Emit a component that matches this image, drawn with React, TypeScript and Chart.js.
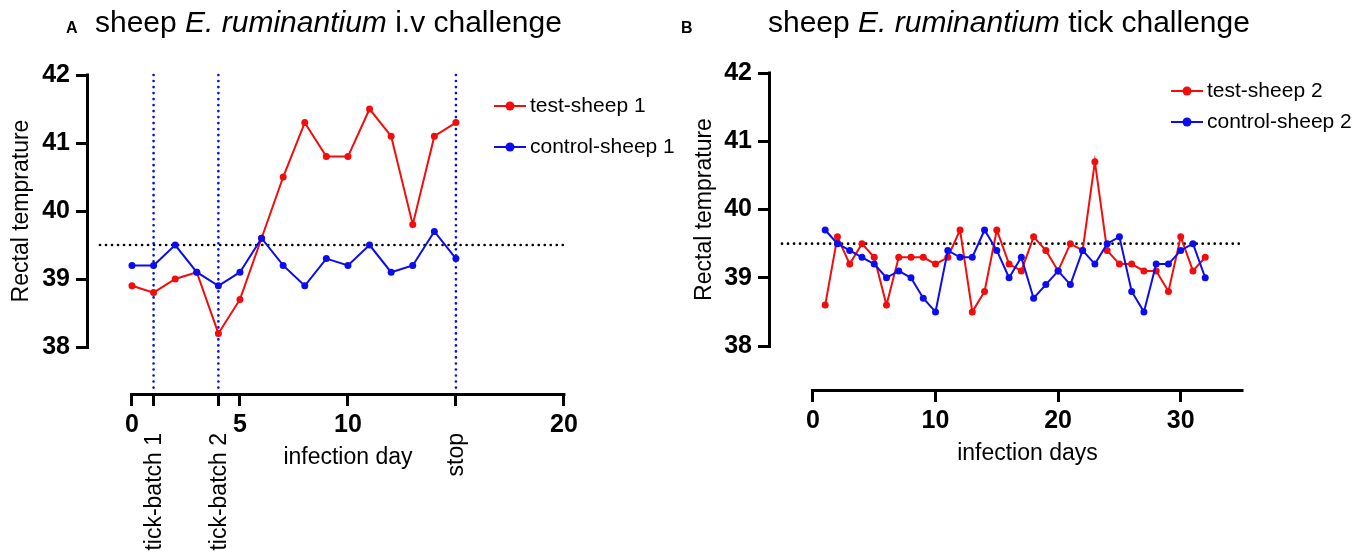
import React, { useEffect, useRef } from 'react';
import { Chart, registerables } from 'chart.js';

Chart.register(...registerables);

const FONT = '"Liberation Sans", Arial, Helvetica, sans-serif';
const RED = '#f20c0c';
const BLUE = '#0c0cf0';

// ---------- Panel A: i.v challenge ----------
const daysA = [0, 1, 2, 3, 4, 5, 6, 7, 8, 9, 10, 11, 12, 13, 14, 15];
const testSheep1 = [38.9, 38.8, 39.0, 39.1, 38.2, 38.7, 39.6, 40.5, 41.3, 40.8, 40.8, 41.5, 41.1, 39.8, 41.1, 41.3];
const controlSheep1 = [39.2, 39.2, 39.5, 39.1, 38.9, 39.1, 39.6, 39.2, 38.9, 39.3, 39.2, 39.5, 39.1, 39.2, 39.7, 39.3];
const xTickValuesA = [0, 5, 10, 20];
const eventDaysA = [1, 4, 15];
const eventLabelsA = ['tick-batch 1', 'tick-batch 2', 'stop'];

// ---------- Panel B: tick challenge ----------
const daysB = [1, 2, 3, 4, 5, 6, 7, 8, 9, 10, 11, 12, 13, 14, 15, 16, 17, 18, 19, 20, 21, 22, 23, 24, 25, 26, 27, 28, 29, 30, 31, 32];
const testSheep2 = [38.6, 39.6, 39.2, 39.5, 39.3, 38.6, 39.3, 39.3, 39.3, 39.2, 39.3, 39.7, 38.5, 38.8, 39.7, 39.2, 39.1, 39.6, 39.4, 39.1, 39.5, 39.4, 40.7, 39.4, 39.2, 39.2, 39.1, 39.1, 38.8, 39.6, 39.1, 39.3];
const controlSheep2 = [39.7, 39.5, 39.4, 39.3, 39.2, 39.0, 39.1, 39.0, 38.7, 38.5, 39.4, 39.3, 39.3, 39.7, 39.4, 39.0, 39.3, 38.7, 38.9, 39.1, 38.9, 39.4, 39.2, 39.5, 39.6, 38.8, 38.5, 39.2, 39.2, 39.4, 39.5, 39.0];
const xTickValuesB = [0, 10, 20, 30];

// ---------- shared ----------
const yTickValues = [38, 39, 40, 41, 42];
const threshold = 39.5;

interface Series { label: string; values: number[]; color: string; order: number }
interface PanelSpec {
  id: string;
  letter: string;
  titleParts: [string, boolean][];
  days: number[];
  series: Series[];
  xTicks: number[];
  events: number[];
  eventLabels: string[];
  xAxisEnd: number;
  xTitle: string;
  yTitle: string;
  xMin: number; xMax: number; yMin: number; yMax: number;
  padding: { left: number; right: number; top: number; bottom: number };
  letterX: number; titleX: number;
  legendX: number; legendY: number; legendGap: number;
  yTitleX: number;
}

const panelA: PanelSpec = {
  id: 'A',
  letter: 'A',
  titleParts: [['sheep ', false], ['E. ruminantium', true], [' i.v challenge', false]],
  days: daysA,
  series: [
    { label: 'test-sheep 1', values: testSheep1, color: RED, order: 1 },
    { label: 'control-sheep 1', values: controlSheep1, color: BLUE, order: 0 },
  ],
  xTicks: xTickValuesA,
  events: eventDaysA,
  eventLabels: eventLabelsA,
  xAxisEnd: 20,
  xTitle: 'infection day',
  yTitle: 'Rectal temprature',
  xMin: -1.99, xMax: 20.05, yMin: 37.324, yMax: 42,
  padding: { left: 0, right: 804, top: 75, bottom: 99 },
  letterX: 66, titleX: 95,
  legendX: 494, legendY: 106, legendGap: 41,
  yTitleX: 22,
};

const panelB: PanelSpec = {
  id: 'B',
  letter: 'B',
  titleParts: [['sheep ', false], ['E. ruminantium', true], [' tick challenge', false]],
  days: daysB,
  series: [
    { label: 'test-sheep 2', values: testSheep2, color: RED, order: 1 },
    { label: 'control-sheep 2', values: controlSheep2, color: BLUE, order: 0 },
  ],
  xTicks: xTickValuesB,
  events: [],
  eventLabels: [],
  xAxisEnd: 35,
  xTitle: 'infection days',
  yTitle: 'Rectal temprature',
  xMin: -3.42, xMax: 35, yMin: 37.37, yMax: 42,
  padding: { left: 682, right: 127, top: 73, bottom: 103 },
  letterX: 681, titleX: 768,
  legendX: 1171, legendY: 91, legendGap: 31,
  yTitleX: 705,
};

function makePlugin(p: PanelSpec) {
  return {
    id: 'panelDecor' + p.id,
    beforeDatasetsDraw(chart: any) {
      const { ctx, chartArea } = chart;
      const x = chart.scales.x;
      const y = chart.scales.y;
      ctx.save();
      ctx.lineCap = 'round';
      ctx.lineWidth = 2.7;
      ctx.setLineDash([0.01, 6]);
      ctx.strokeStyle = '#000';
      const ty = y.getPixelForValue(threshold);
      ctx.beginPath();
      ctx.moveTo(chartArea.left + 11, ty);
      ctx.lineTo(chartArea.right, ty);
      ctx.stroke();
      ctx.strokeStyle = BLUE;
      p.events.forEach((d) => {
        const px = x.getPixelForValue(d);
        ctx.beginPath();
        ctx.moveTo(px, y.getPixelForValue(yTickValues[yTickValues.length - 1]));
        ctx.lineTo(px, chartArea.bottom);
        ctx.stroke();
      });
      ctx.restore();
    },
    afterDraw(chart: any) {
      const { ctx, chartArea } = chart;
      const x = chart.scales.x;
      const y = chart.scales.y;
      ctx.save();
      // axis lines
      ctx.strokeStyle = '#000';
      ctx.lineWidth = 3;
      ctx.lineCap = 'butt';
      const yTop = y.getPixelForValue(yTickValues[yTickValues.length - 1]);
      const yBot = y.getPixelForValue(yTickValues[0]);
      ctx.beginPath();
      ctx.moveTo(chartArea.left - 1.5, yTop - 1.5);
      ctx.lineTo(chartArea.left - 1.5, yBot + 1.5);
      ctx.stroke();
      const x0 = x.getPixelForValue(0);
      const x1 = x.getPixelForValue(p.xAxisEnd);
      ctx.beginPath();
      ctx.moveTo(x0 - 1.5, chartArea.bottom + 1.5);
      ctx.lineTo(x1 + 1.5, chartArea.bottom + 1.5);
      ctx.stroke();

      ctx.fillStyle = '#000';
      // y title
      ctx.save();
      ctx.translate(p.yTitleX, (yTop + yBot) / 2);
      ctx.rotate(-Math.PI / 2);
      ctx.font = `23px ${FONT}`;
      ctx.textAlign = 'center';
      ctx.textBaseline = 'middle';
      ctx.fillText(p.yTitle, 0, 0);
      ctx.restore();

      // x title
      ctx.font = `23px ${FONT}`;
      ctx.textAlign = 'center';
      ctx.textBaseline = 'middle';
      ctx.fillText(p.xTitle, (x0 + x1) / 2, chartArea.bottom + 65);

      // rotated event labels
      ctx.font = `23px ${FONT}`;
      p.events.forEach((d, i) => {
        ctx.save();
        ctx.translate(x.getPixelForValue(d) + 1, chartArea.bottom + 40);
        ctx.rotate(-Math.PI / 2);
        ctx.textAlign = 'right';
        ctx.textBaseline = 'middle';
        ctx.fillText(p.eventLabels[i], 0, 0);
        ctx.restore();
      });

      // panel letter and title
      ctx.textAlign = 'left';
      ctx.textBaseline = 'alphabetic';
      ctx.font = `bold 16px ${FONT}`;
      ctx.fillText(p.letter, p.letterX, 33);
      let tx = p.titleX;
      p.titleParts.forEach(([text, italic]) => {
        ctx.font = `${italic ? 'italic ' : ''}30px ${FONT}`;
        ctx.fillText(text, tx, 32);
        tx += ctx.measureText(text).width;
      });

      // legend
      p.series.forEach((s, i) => {
        const ly = p.legendY + i * p.legendGap;
        ctx.strokeStyle = s.color;
        ctx.lineWidth = 2;
        ctx.beginPath();
        ctx.moveTo(p.legendX, ly);
        ctx.lineTo(p.legendX + 32, ly);
        ctx.stroke();
        ctx.fillStyle = s.color;
        ctx.beginPath();
        ctx.arc(p.legendX + 16, ly, 4.5, 0, Math.PI * 2);
        ctx.fill();
        ctx.fillStyle = '#000';
        ctx.font = `21px ${FONT}`;
        ctx.textBaseline = 'middle';
        ctx.fillText(s.label, p.legendX + 36, ly);
      });
      ctx.restore();
    },
  };
}

function buildConfig(p: PanelSpec): any {
  const allXTicks = [...p.xTicks, ...p.events].sort((a, b) => a - b);
  return {
    type: 'line',
    data: {
      datasets: p.series.map((s) => ({
        label: s.label,
        data: p.days.map((d, i) => ({ x: d, y: s.values[i] })),
        borderColor: s.color,
        backgroundColor: s.color,
        pointBackgroundColor: s.color,
        pointBorderColor: s.color,
        pointRadius: 3.5,
        pointBorderWidth: 0,
        borderWidth: 2,
        tension: 0,
        order: s.order,
        clip: false,
      })),
    },
    options: {
      responsive: false,
      animation: false,
      devicePixelRatio: 1,
      layout: { padding: p.padding },
      plugins: {
        legend: { display: false },
        tooltip: { enabled: false },
        title: { display: false },
      },
      scales: {
        x: {
          type: 'linear',
          min: p.xMin,
          max: p.xMax,
          afterBuildTicks: (s: any) => {
            s.ticks = allXTicks.map((v) => ({ value: v }));
          },
          afterFit: (s: any) => {
            s.height = 60;
          },
          grid: { display: true, drawOnChartArea: false, drawTicks: true, tickLength: 13, lineWidth: 3, color: '#000' },
          border: { display: false },
          ticks: {
            autoSkip: false,
            maxRotation: 0,
            minRotation: 0,
            padding: 4,
            color: '#000',
            font: { family: FONT, size: 25, weight: 'bold' },
            callback: (v: number) => (p.xTicks.includes(v) ? String(v) : ''),
          },
        },
        y: {
          type: 'linear',
          min: p.yMin,
          max: p.yMax,
          afterBuildTicks: (s: any) => {
            s.ticks = yTickValues.map((v) => ({ value: v }));
          },
          afterFit: (s: any) => {
            s.width = 89;
          },
          grid: { display: true, drawOnChartArea: false, drawTicks: true, tickLength: 13, lineWidth: 3, color: '#000' },
          border: { display: false },
          ticks: {
            autoSkip: false,
            padding: 6,
            color: '#000',
            font: { family: FONT, size: 25, weight: 'bold' },
            callback: (v: number) => String(v),
          },
        },
      },
    },
    plugins: [makePlugin(p)],
  };
}

function Panel({ spec }: { spec: PanelSpec }) {
  const ref = useRef<HTMLCanvasElement>(null);
  useEffect(() => {
    if (!ref.current) return;
    const chart = new Chart(ref.current, buildConfig(spec));
    return () => chart.destroy();
  }, [spec]);
  return (
    <canvas
      ref={ref}
      width={1369}
      height={552}
      style={{ position: 'absolute', left: 0, top: 0, width: 1369, height: 552 }}
    />
  );
}

export default function App() {
  return (
    <div style={{ position: 'fixed', left: 0, top: 0, width: 1369, height: 552, background: '#fff', overflow: 'hidden' }}>
      <Panel spec={panelA} />
      <Panel spec={panelB} />
    </div>
  );
}
